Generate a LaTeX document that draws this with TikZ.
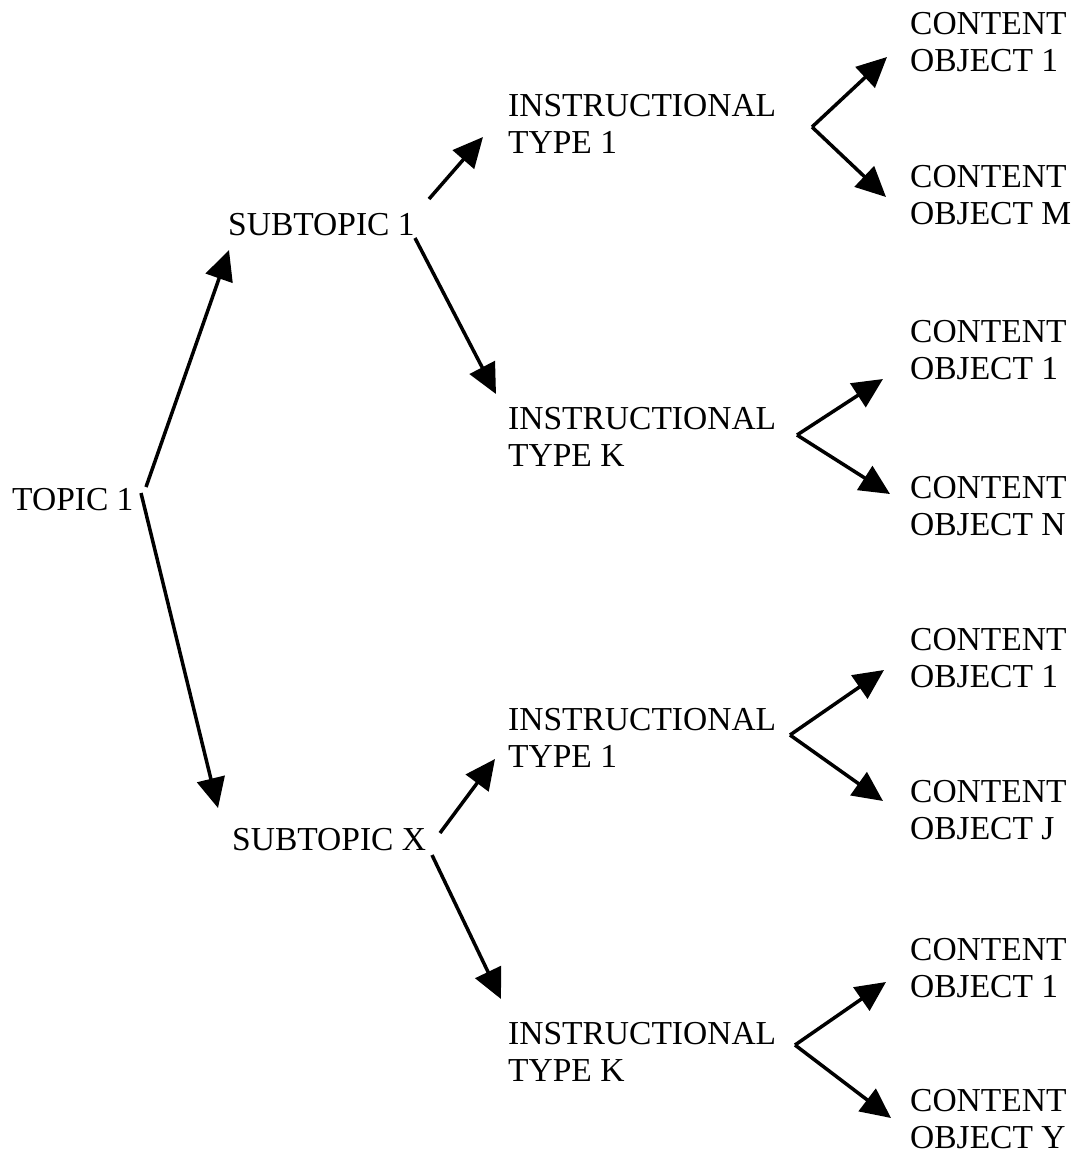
\documentclass[tikz,border=0pt]{standalone}
\usepackage{fontspec}
\setmainfont{Liberation Serif}
\usetikzlibrary{arrows.meta}
\begin{document}
\begin{tikzpicture}[x=1pt,y=-1pt,
  lbl/.style={anchor=west,align=left,inner sep=0pt,font=\fontsize{33.5}{37.5}\selectfont},
  conn/.style={line width=3.5pt,-{Triangle[length=30pt,width=28pt]}}]
\useasboundingbox (0,0) rectangle (1078,1157);
% nodes
\node[lbl] (topic) at (12,500) {TOPIC 1};
\node[lbl] (sub1) at (228,225) {SUBTOPIC 1};
\node[lbl] (subx) at (232,840) {SUBTOPIC X};
\node[lbl] (it1a) at (508,124) {INSTRUCTIONAL\\TYPE 1};
\node[lbl] (itka) at (508,437) {INSTRUCTIONAL\\TYPE K};
\node[lbl] (it1b) at (508,738) {INSTRUCTIONAL\\TYPE 1};
\node[lbl] (itkb) at (508,1052) {INSTRUCTIONAL\\TYPE K};
\node[lbl] (co1) at (910,42) {CONTENT\\OBJECT 1};
\node[lbl] (co2) at (910,195) {CONTENT\\OBJECT M};
\node[lbl] (co3) at (910,350) {CONTENT\\OBJECT 1};
\node[lbl] (co4) at (910,506) {CONTENT\\OBJECT N};
\node[lbl] (co5) at (910,658) {CONTENT\\OBJECT 1};
\node[lbl] (co6) at (910,810) {CONTENT\\OBJECT J};
\node[lbl] (co7) at (910,968) {CONTENT\\OBJECT 1};
\node[lbl] (co8) at (910,1119) {CONTENT\\OBJECT Y};
% connector ends
\coordinate (t1s) at (146,487);
\coordinate (t2s) at (141,493);
\coordinate (s1t) at (229,250);
\coordinate (sxt) at (218,808);
\coordinate (s1a) at (429,199);
\coordinate (s1b) at (415,238);
\coordinate (i1t) at (483,137);
\coordinate (ikt) at (496,394);
\coordinate (sxa) at (440,833);
\coordinate (sxb) at (432,855);
\coordinate (i2t) at (495,759);
\coordinate (ik2t) at (501,999);
\coordinate (f1) at (812,127);
\coordinate (f2) at (797,435);
\coordinate (f3) at (790,735);
\coordinate (f4) at (795,1045);
\coordinate (c1t) at (887,57);
\coordinate (c2t) at (886,197);
\coordinate (c3t) at (883,379);
\coordinate (c4t) at (890,494);
\coordinate (c5t) at (884,670);
\coordinate (c6t) at (883,801);
\coordinate (c7t) at (886,982);
\coordinate (c8t) at (891,1118);
% connectors
\draw[conn] (t1s) -- (s1t);
\draw[conn] (t2s) -- (sxt);
\draw[conn] (s1a) -- (i1t);
\draw[conn] (s1b) -- (ikt);
\draw[conn] (sxa) -- (i2t);
\draw[conn] (sxb) -- (ik2t);
\draw[conn] (f1) -- (c1t);
\draw[conn] (f1) -- (c2t);
\draw[conn] (f2) -- (c3t);
\draw[conn] (f2) -- (c4t);
\draw[conn] (f3) -- (c5t);
\draw[conn] (f3) -- (c6t);
\draw[conn] (f4) -- (c7t);
\draw[conn] (f4) -- (c8t);
\end{tikzpicture}
\end{document}
